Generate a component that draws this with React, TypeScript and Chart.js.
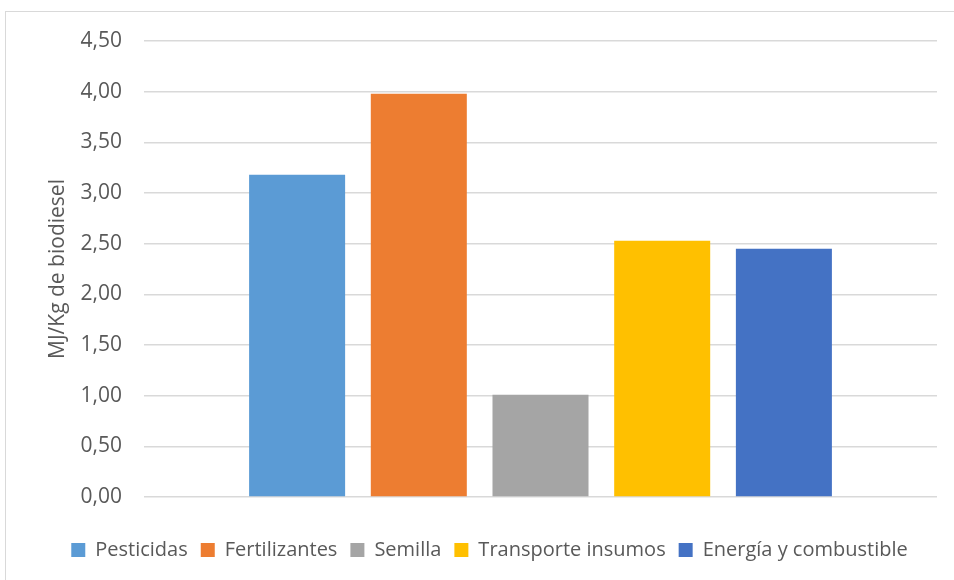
import React, { useEffect, useRef } from "react";
import { Chart, registerables } from "chart.js";

Chart.register(...registerables);

const seriesNames = ["Pesticidas", "Fertilizantes", "Semilla", "Transporte insumos", "Energía y combustible"];
const seriesValues = [3.18, 3.98, 1.01, 2.53, 2.45];
const seriesColors = ["#5B9BD5", "#ED7D31", "#A5A5A5", "#FFC000", "#4472C4"];
const categories = [""];
const yTitle = "MJ/Kg de biodiesel";

const FONT = "'Open Sans', 'DejaVu Sans', sans-serif";
const TEXT = "#595959";
const GRID = "#D9D9D9";

const legendShift = {
  id: "legendShift",
  afterLayout(chart: any) {
    const lg = chart.legend;
    if (lg) {
      lg.left += 21;
      lg.right += 21;
    }
  },
};

export default function App() {
  const ref = useRef<HTMLCanvasElement | null>(null);

  useEffect(() => {
    document.body.style.margin = "0";
    const canvas = ref.current;
    if (!canvas) return;
    const chart = new Chart(canvas, {
      type: "bar",
      data: {
        labels: categories,
        datasets: seriesNames.map((name, i) => ({
          label: name,
          data: [seriesValues[i]],
          backgroundColor: seriesColors[i],
          borderWidth: 0,
          categoryPercentage: 0.7673,
          barPercentage: 0.789,
        })),
      },
      plugins: [legendShift],
      options: {
        animation: false,
        responsive: false,
        maintainAspectRatio: false,
        devicePixelRatio: 1,
        layout: { padding: { left: 0, right: 17, top: 41, bottom: 10 } },
        plugins: {
          tooltip: { enabled: false },
          legend: {
            position: "bottom",
            align: "center",
            title: {
              display: true,
              text: "",
              font: { family: FONT, size: 10 },
              padding: { top: 18, bottom: 0 },
            },
            labels: {
              boxWidth: 14,
              boxHeight: 14,
              padding: 13,
              color: TEXT,
              font: { family: FONT, size: 20 },
            },
          },
        },
        scales: {
          x: {
            type: "category",
            display: false,
            grid: { display: false },
          },
          y: {
            min: 0,
            max: 4.5,
            border: { display: false },
            grid: { color: GRID, lineWidth: 1.5, drawTicks: false },
            ticks: {
              stepSize: 0.5,
              padding: 22,
              color: TEXT,
              font: { family: FONT, size: 21 },
              callback: (v: any) => Number(v).toFixed(2).replace(".", ","),
            },
            title: {
              display: true,
              text: yTitle,
              color: TEXT,
              font: { family: FONT, size: 21 },
              padding: { top: 45, bottom: 0 },
            },
            afterFit: (s: any) => {
              s.width = 144;
            },
          },
        },
      },
    });
    return () => chart.destroy();
  }, []);

  return (
    <div style={{ position: "relative", width: 954, height: 580, overflow: "hidden", background: "#fff" }}>
      <div
        style={{
          position: "absolute",
          left: 5,
          top: 11,
          width: 1000,
          height: 1000,
          borderLeft: "1px solid #D9D9D9",
          borderTop: "1px solid #D9D9D9",
        }}
      />
      <canvas ref={ref} width={954} height={580} style={{ position: "absolute", left: 0, top: 0, width: 954, height: 580 }} />
    </div>
  );
}
